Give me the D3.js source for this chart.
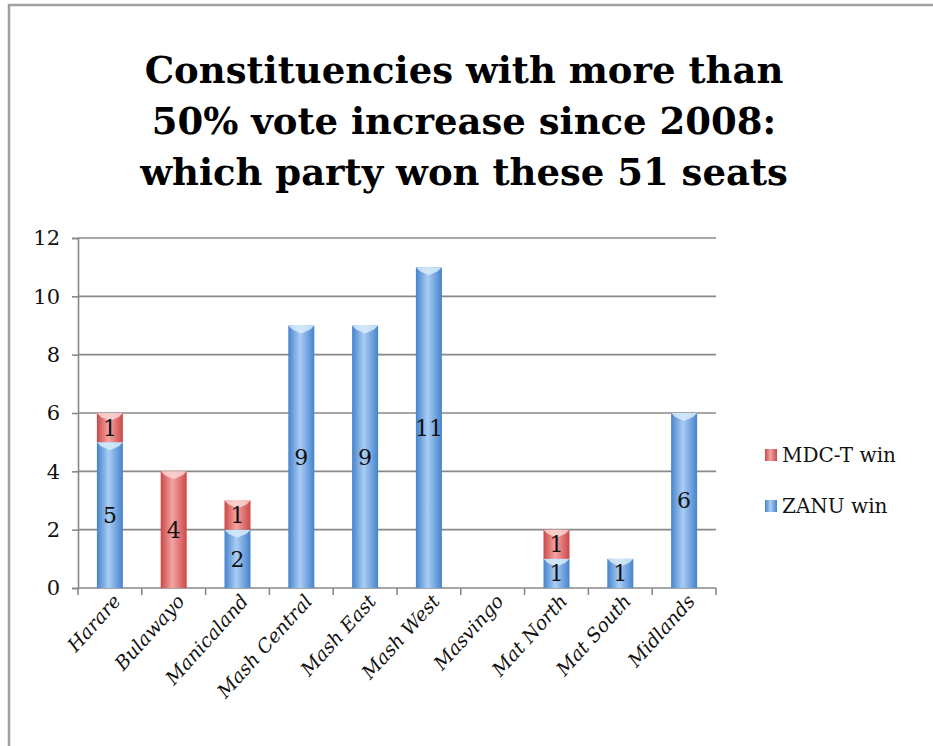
<!DOCTYPE html>
<html>
<head>
<meta charset="utf-8">
<script src="https://cdn.jsdelivr.net/npm/d3@7"></script>
<style>
  body { margin: 0; background: #fff; }
  text { font-family: "DejaVu Serif", "Liberation Serif", serif; }
</style>
</head>
<body>
<svg id="chart" width="933" height="746"></svg>
<script>
// data
var regions = ["Harare", "Bulawayo", "Manicaland", "Mash Central", "Mash East",
               "Mash West", "Masvingo", "Mat North", "Mat South", "Midlands"];
var zanuWin = [5, 0, 2, 9, 9, 11, 0, 1, 1, 6];
var mdcWin  = [1, 4, 1, 0, 0, 0, 0, 1, 0, 0];
var yTicks = [0, 2, 4, 6, 8, 10, 12];
var titleLines = ["Constituencies with more than",
                  "50% vote increase since 2008:",
                  "which party won these 51 seats"];

var svg = d3.select("#chart"),
    width = +svg.attr("width"),
    height = +svg.attr("height");

// frame
svg.append("rect")
  .attr("x", 9).attr("y", 5)
  .attr("width", width + 10).attr("height", height + 10)
  .attr("fill", "none").attr("stroke", "#a0a0a0").attr("stroke-width", 2.5);

// gradients, a bit like the excel cylinder look
var defs = svg.append("defs");
function grad(id, edge, mid) {
  var g = defs.append("linearGradient").attr("id", id)
    .attr("x1", "0%").attr("x2", "100%").attr("y1", "0%").attr("y2", "0%");
  g.append("stop").attr("offset", "0%").attr("stop-color", edge);
  g.append("stop").attr("offset", "45%").attr("stop-color", mid);
  g.append("stop").attr("offset", "100%").attr("stop-color", edge);
}
grad("blueGrad", "#4683cc", "#a9cdf4");
grad("redGrad", "#cc4848", "#f3a4a2");

// title
svg.append("g").selectAll("text")
  .data(titleLines)
  .enter().append("text")
    .attr("x", 464)
    .attr("y", function(d, i) { return 83 + i * 51; })
    .attr("text-anchor", "middle")
    .attr("font-size", 37)
    .attr("font-weight", "bold")
    .text(function(d) { return d; });

var plotLeft = 78, plotRight = 716, plotTop = 238, plotBottom = 588;

var x = d3.scaleBand()
  .domain(regions)
  .range([plotLeft, plotRight])
  .padding(0);

var y = d3.scaleLinear()
  .domain([0, 12])
  .range([plotBottom, plotTop]);

var barW = 26;

// gridlines
svg.append("g").selectAll("line")
  .data(yTicks.filter(function(t) { return t > 0; }))
  .enter().append("line")
    .attr("x1", plotLeft).attr("x2", plotRight)
    .attr("y1", function(d) { return y(d); })
    .attr("y2", function(d) { return y(d); })
    .attr("stroke", "#888").attr("stroke-width", 1.6);

// y axis
var yAxis = svg.append("g")
  .attr("transform", "translate(" + plotLeft + ",0)")
  .call(d3.axisLeft(y).tickValues(yTicks).tickSize(6).tickPadding(12));
yAxis.select(".domain").attr("stroke", "#888").attr("stroke-width", 1.6);
yAxis.selectAll(".tick line").attr("stroke", "#888").attr("stroke-width", 1.6);
yAxis.selectAll(".tick text")
  .style("font-family", "'DejaVu Serif', serif")
  .style("font-size", "21px")
  .attr("fill", "#111");

// x axis
svg.append("line")
  .attr("x1", plotLeft).attr("x2", plotRight)
  .attr("y1", plotBottom).attr("y2", plotBottom)
  .attr("stroke", "#888").attr("stroke-width", 1.6);
svg.append("g").selectAll("line")
  .data(regions.concat(["end"]))
  .enter().append("line")
    .attr("x1", function(d, i) { return plotLeft + i * x.bandwidth(); })
    .attr("x2", function(d, i) { return plotLeft + i * x.bandwidth(); })
    .attr("y1", plotBottom).attr("y2", plotBottom + 7)
    .attr("stroke", "#888").attr("stroke-width", 1.6);

// category labels
svg.append("g").selectAll("text")
  .data(regions)
  .enter().append("text")
    .attr("transform", function(d) {
      return "translate(" + (x(d) + x.bandwidth() / 2 + 12) + "," + (plotBottom + 14) + ") rotate(-48)";
    })
    .attr("text-anchor", "end")
    .attr("font-size", 19)
    .attr("font-style", "italic")
    .attr("fill", "#111")
    .text(function(d) { return d; });

// stacked bars
var rows = regions.map(function(r, i) { return { region: r, zanu: zanuWin[i], mdc: mdcWin[i] }; });
var stack = d3.stack().keys(["zanu", "mdc"])(rows);
var fills = { zanu: "url(#blueGrad)", mdc: "url(#redGrad)" };
var tops = { zanu: "#d8ebfc", mdc: "#fbd6d4" };

stack.forEach(function(layer) {
  var key = layer.key;
  var seg = svg.append("g").selectAll("g")
    .data(layer.filter(function(d) { return d[1] - d[0] > 0; }))
    .enter().append("g");

  seg.append("rect")
    .attr("x", function(d) { return x(d.data.region) + (x.bandwidth() - barW) / 2; })
    .attr("y", function(d) { return y(d[1]); })
    .attr("width", barW)
    .attr("height", function(d) { return y(d[0]) - y(d[1]); })
    .attr("fill", fills[key]);

  // little chevron highlight at top of segment
  seg.append("path")
    .attr("d", function(d) {
      var x0 = x(d.data.region) + (x.bandwidth() - barW) / 2, yt = y(d[1]);
      return "M" + x0 + "," + yt + "L" + (x0 + barW) + "," + yt +
             "L" + (x0 + barW - 4) + "," + (yt + 4) + "L" + (x0 + barW / 2) + "," + (yt + 8) +
             "L" + (x0 + 4) + "," + (yt + 4) + "Z";
    })
    .attr("fill", tops[key]).attr("opacity", 0.85);

  seg.append("text")
    .attr("x", function(d) { return x(d.data.region) + x.bandwidth() / 2; })
    .attr("y", function(d) { return (y(d[0]) + y(d[1])) / 2; })
    .attr("dy", "0.36em")
    .attr("text-anchor", "middle")
    .attr("font-size", 22)
    .attr("fill", "#111")
    .text(function(d) { return d[1] - d[0]; });
});

// legend
var legendItems = [
  { label: "MDC-T win", fill: "url(#redGrad)" },
  { label: "ZANU win", fill: "url(#blueGrad)" }
];
var legend = svg.append("g").selectAll("g")
  .data(legendItems)
  .enter().append("g")
    .attr("transform", function(d, i) { return "translate(765," + (449 + i * 51) + ")"; });
legend.append("rect")
  .attr("width", 12).attr("height", 12)
  .attr("fill", function(d) { return d.fill; });
legend.append("text")
  .attr("x", 17).attr("y", 6).attr("dy", "0.36em")
  .attr("font-size", 20)
  .attr("fill", "#111")
  .text(function(d) { return d.label; });
</script>
</body>
</html>
